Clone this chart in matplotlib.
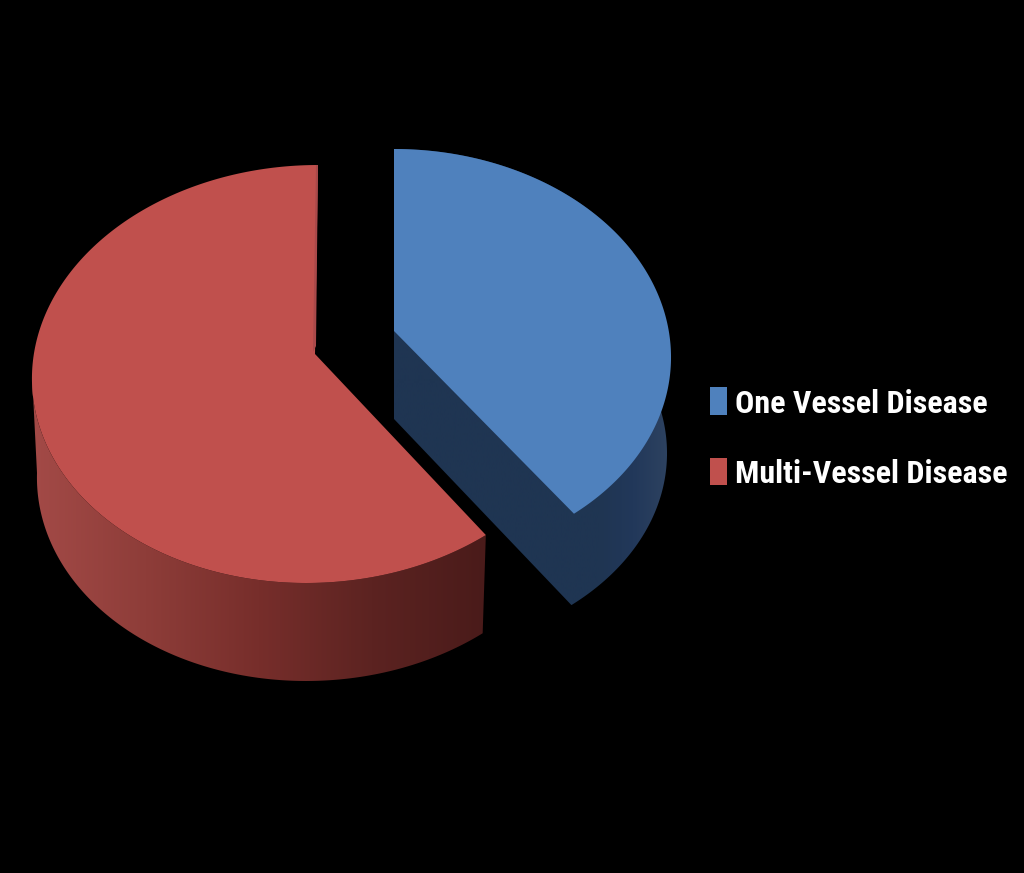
import numpy as np
import matplotlib
matplotlib.use("Agg")
import matplotlib.pyplot as plt
from matplotlib.colors import LinearSegmentedColormap
from matplotlib.patches import Polygon, Rectangle

categories = ["One Vessel Disease", "Multi-Vessel Disease"]
shares = [39, 61]

top_colors = ["#4f81bd", "#c0504d"]
blue_wall_stops = ["#1f3552"] * 7 + ["#22385a", "#2d4260"]
red_wall_stops = ["#a34a47", "#8e3d39", "#772e2b", "#5c2321", "#4a1b1a"]
red_sliver = "#a9494a"

# layout of each slice in pixels: centre, radii, skew, apex
blue_top = dict(cx=397, cy=355, rx=274, ry=206, sk=-3)
blue_bot = dict(cx=397, cy=451, rx=270, ry=200, sk=-3)
blue_apex = (394, 331)
blue_apex_low = (394, 419)
red_top = dict(cx=312, cy=374, rx=280, ry=209, sk=6)
red_bot = dict(cx=312, cy=473, rx=275, ry=208, sk=6)
red_apex = (315, 354)


def rim(e, a, b, n=240):
    # clockwise angle from 12 o'clock, squashed ellipse with small skew
    t = np.radians(np.linspace(a, b, n))
    x = e["cx"] + e["rx"] * np.sin(t) + e["sk"] * np.cos(t)
    y = e["cy"] - e["ry"] * np.cos(t)
    return np.column_stack([x, y])


def shaded_wall(ax, pts, stops, y0, y1):
    # wall polygon filled with a left-to-right gradient
    wall = Polygon(pts, fc="none", ec="none")
    ax.add_patch(wall)
    cmap = LinearSegmentedColormap.from_list("wall", stops)
    im = ax.imshow(np.linspace(0, 1, 256)[None, :], cmap=cmap, aspect="auto",
                   extent=[pts[:, 0].min(), pts[:, 0].max(), y1, y0], zorder=1)
    im.set_clip_path(wall)


fig = plt.figure(figsize=(10.24, 8.73), dpi=100, facecolor="black")
ax = fig.add_axes([0, 0, 1, 1])
ax.set_facecolor("black")
ax.axis("off")

split = 360 * shares[0] / sum(shares)

# blue slice: cut face and outer wall, then the lit top
blue_outer = np.vstack([[blue_apex, blue_apex_low], rim(blue_bot, split, 60), rim(blue_top, 60, 0)])
shaded_wall(ax, blue_outer, blue_wall_stops, 140, 620)
blue_face = np.vstack([[blue_apex], rim(blue_top, 0, split)])
ax.add_patch(Polygon(blue_face, fc=top_colors[0], ec="none", zorder=2))

# red slice: outer wall has a left-to-right shading
red_outer = np.vstack([rim(red_top, split, 270), rim(red_bot, 270, split)])
shaded_wall(ax, red_outer, red_wall_stops, 350, 700)
red_face = np.vstack([[red_apex], rim(red_top, split, 360)])
ax.add_patch(Polygon(red_face, fc=top_colors[1], ec="none", zorder=2))
end = rim(red_top, 359.9, 360)[-1]
ax.add_patch(Polygon([end, end - (2, 0), (red_apex[0] - 2, red_apex[1] - 2), (red_apex[0] + 1, red_apex[1] - 8)],
                     fc=red_sliver, ec="none", zorder=3))

# legend
swatch_y = [387, 458]
swatch_h = [28, 27]
text_y = [413, 483]
for name, col, sy, sh, ty in zip(categories, top_colors, swatch_y, swatch_h, text_y):
    ax.add_patch(Rectangle((710, sy), 17, sh, fc=col, ec="none", zorder=4))
    ax.text(735, ty, name, color="white", fontsize=23, fontweight="bold",
            family=["Roboto Condensed", "DejaVu Sans"], ha="left", va="baseline", zorder=4)

ax.set_xlim(0, 1024)
ax.set_ylim(873, 0)
fig.savefig("out.png", dpi=100, facecolor="black")
